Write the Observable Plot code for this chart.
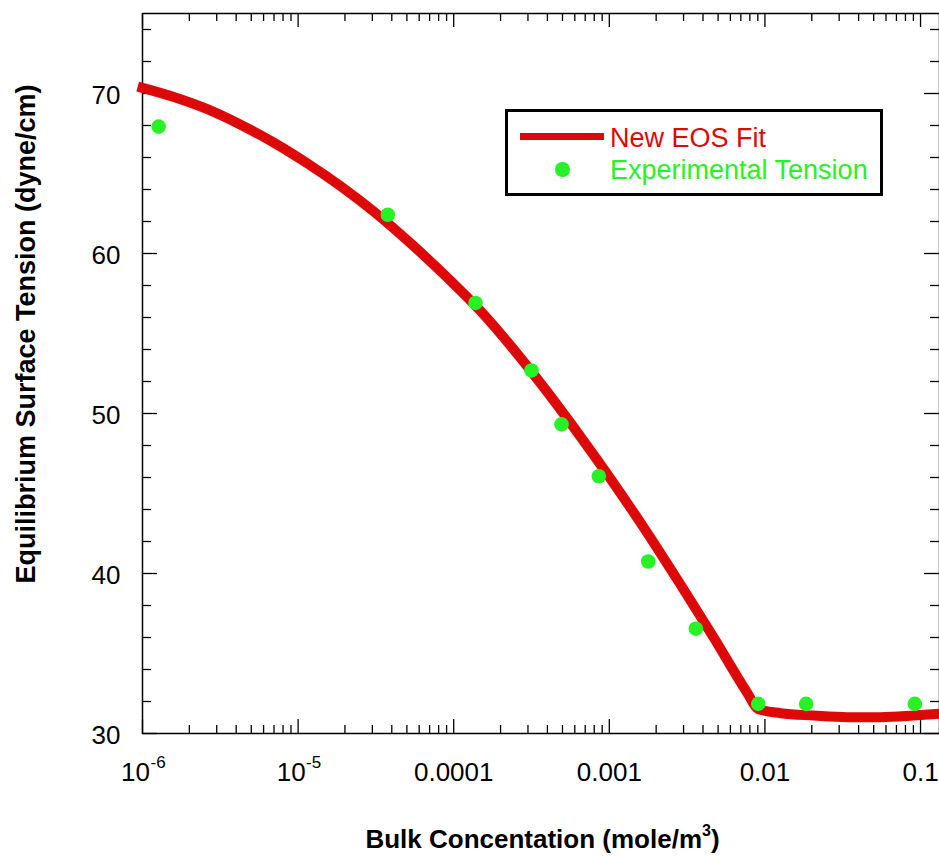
<!DOCTYPE html>
<html>
<head>
<meta charset="utf-8">
<script src="https://cdn.jsdelivr.net/npm/d3@7"></script>
<script src="https://cdn.jsdelivr.net/npm/@observablehq/plot@0.6"></script>
<style>
  html, body { margin: 0; padding: 0; background: #fff; }
  #wrap { position: relative; width: 939px; height: 858px; overflow: hidden; font-family: "Liberation Sans", Arial, sans-serif; }
  #chart { position: absolute; left: 0; top: 0; }
  .abs { position: absolute; white-space: nowrap; line-height: 1; }
  #xtitle { font-weight: bold; font-size: 26px; left: 542.5px; top: 826px; transform: translateX(-50%); color: #000; }
  #xtitle sup { font-size: 16px; vertical-align: 0; position: relative; top: -12px; }
  #ytitle { font-weight: bold; font-size: 27px; left: 26px; top: 333.5px; transform: translate(-50%, -50%) rotate(-90deg); color: #000; }
  #legend { position: absolute; left: 505px; top: 109px; width: 372px; height: 81px; border: 3px solid #000; background: #fff; }
</style>
</head>
<body>
<div id="wrap">
  <div id="chart"></div>
  <div id="legend"></div>
  <div id="xtitle" class="abs">Bulk Concentation (mole/m<sup>3</sup>)</div>
  <div id="ytitle" class="abs">Equilibrium Surface Tension (dyne/cm)</div>
</div>
<script>
// ---- Data ----
// EOS fit curve (concentration in mole/m^3, tension in dyne/cm)
const fitConc = [1.0e-6, 1.59e-6, 2.61e-6, 4.27e-6, 6.98e-6, 1.14e-5, 1.87e-5, 3.07e-5, 5.55e-5, 9.08e-5,
                 1.49e-4, 2.43e-4, 3.99e-4, 6.53e-4, 1.07e-3, 1.75e-3, 2.87e-3, 4.70e-3, 7.69e-3, 9.04e-3,
                 0.0126, 0.0206, 0.0338, 0.0553, 0.0906, 0.1324];
const fitTension = [70.35, 69.78, 69.02, 68.05, 66.93, 65.65, 64.22, 62.62, 60.45, 58.50,
                    56.40, 54.00, 51.35, 48.55, 45.62, 42.55, 39.30, 35.98, 32.55, 31.53,
                    31.27, 31.12, 31.02, 31.02, 31.12, 31.23];
// Experimental points
const expConc = [1.27e-6, 3.77e-5, 1.38e-4, 3.16e-4, 4.93e-4, 8.56e-4, 1.78e-3, 3.60e-3, 9.06e-3, 0.0184, 0.0919];
const expTension = [67.93, 62.42, 56.91, 52.69, 49.32, 46.08, 40.75, 36.55, 31.85, 31.85, 31.85];

// Axes
const xDomain = [1e-6, 0.1324];
const yDomain = [30, 75];
const xDecades = [1e-6, 1e-5, 1e-4, 1e-3, 1e-2, 1e-1];
const xPowerLabels = [{v: 1e-6, base: "10", exp: "-6"}, {v: 1e-5, base: "10", exp: "-5"}];
const xPlainLabels = [{v: 1e-4, t: "0.0001"}, {v: 1e-3, t: "0.001"}, {v: 1e-2, t: "0.01"}, {v: 1e-1, t: "0.1"}];
const xMinorMultipliers = [2, 3, 4, 5, 6, 7, 8, 9];
const yMajorTicks = [30, 40, 50, 60, 70];
const yMinorTicks = [32, 34, 36, 38, 42, 44, 46, 48, 52, 54, 56, 58, 62, 64, 66, 68, 72, 74];

const seriesNames = ["New EOS Fit", "Experimental Tension"];
const RED = "#dd0808";
const GREEN = "#26f226";

// ---- Build ----
const fitData = fitConc.map((c, i) => ({c, t: fitTension[i]}));
const expData = expConc.map((c, i) => ({c, t: expTension[i]}));
const xMinorTicks = xDecades.flatMap(d => xMinorMultipliers.map(m => m * d)).filter(v => v <= xDomain[1]);

const W = 939, H = 858, mT = 13, mL = 142, mR = 0, mB = 125;
const fw = W - mL - mR, fh = H - mT - mB;
const tickStyle = {stroke: "#000", strokeWidth: 1.3};

const chart = Plot.plot({
  width: W, height: H,
  marginTop: mT, marginLeft: mL, marginRight: mR, marginBottom: mB,
  x: {type: "log", domain: xDomain, axis: null},
  y: {domain: yDomain, axis: null},
  style: {fontFamily: "'Liberation Sans', Arial, sans-serif", background: "#fff", overflow: "visible"},
  marks: [
    // ticks (inward) bottom / top
    Plot.tickX(xDecades, {x: d => d, insetTop: fh - 14, ...tickStyle}),
    Plot.tickX(xMinorTicks, {x: d => d, insetTop: fh - 8, ...tickStyle}),
    Plot.tickX(xDecades, {x: d => d, insetBottom: fh - 14, ...tickStyle}),
    Plot.tickX(xMinorTicks, {x: d => d, insetBottom: fh - 8, ...tickStyle}),
    // ticks left / right
    Plot.tickY(yMajorTicks, {y: d => d, insetRight: fw - 15, ...tickStyle}),
    Plot.tickY(yMinorTicks, {y: d => d, insetRight: fw - 9, ...tickStyle}),
    Plot.tickY(yMajorTicks, {y: d => d, insetLeft: fw - 15, ...tickStyle}),
    Plot.tickY(yMinorTicks, {y: d => d, insetLeft: fw - 9, ...tickStyle}),
    Plot.frame({stroke: "#000", strokeWidth: 1.5}),
    // tick labels
    Plot.text(yMajorTicks, {y: d => d, text: d => String(d), frameAnchor: "left", textAnchor: "end", dx: -22, dy: 2, fontSize: 26, fill: "#000"}),
    Plot.text(xPlainLabels, {x: "v", text: "t", frameAnchor: "bottom", lineAnchor: "bottom", dy: 47.5, fontSize: 26, fill: "#000"}),
    Plot.text(xPowerLabels, {x: "v", text: "base", frameAnchor: "bottom", lineAnchor: "bottom", textAnchor: "end", dx: 7.5, dy: 47.5, fontSize: 26, fill: "#000"}),
    Plot.text(xPowerLabels, {x: "v", text: "exp", frameAnchor: "bottom", lineAnchor: "bottom", textAnchor: "start", dx: 8, dy: 34, fontSize: 17, fill: "#000"}),
    // data
    Plot.line(fitData, {x: "c", y: "t", curve: "monotone-x", stroke: RED, strokeWidth: 10, strokeLinecap: "square", strokeLinejoin: "miter"}),
    Plot.dot(expData, {x: "c", y: "t", r: 7.3, fill: GREEN, stroke: null})
  ]
});
document.getElementById("chart").appendChild(chart);

// ---- Legend ----
const legend = document.getElementById("legend");
legend.innerHTML = `
  <div style="position:absolute;left:12px;top:21px;width:84px;height:7px;background:${RED}"></div>
  <div class="abs" style="left:102px;top:12.5px;font-size:27px;color:${RED}">${seriesNames[0]}</div>
  <div style="position:absolute;left:47px;top:50px;width:14.5px;height:14.5px;border-radius:50%;background:${GREEN}"></div>
  <div class="abs" style="left:102px;top:44.5px;font-size:27px;color:${GREEN}">${seriesNames[1]}</div>
`;
</script>
</body>
</html>
